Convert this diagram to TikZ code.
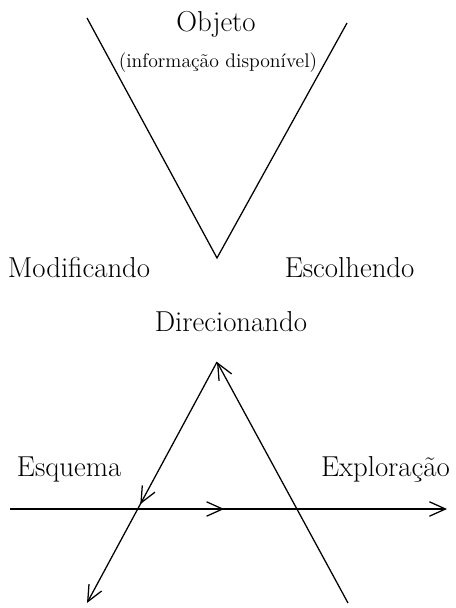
\documentclass[tikz,border=0pt]{standalone}
\usepackage{tikz}
\usetikzlibrary{arrows.meta, decorations.markings}

\begin{document}
\begin{tikzpicture}[big/.style={font=\fontsize{20.5}{24}\selectfont, anchor=base}, small/.style={font=\fontsize{14}{17}\selectfont, anchor=base}, n/.style={line width=0.9pt}, a/.style={-{Straight Barb[length=4mm, width=3.6mm, line width=0.9pt]}, line width=0.9pt}, mid/.style={postaction={decorate}, decoration={markings, mark=at position #1 with {\arrow{Straight Barb[length=4mm, width=3.6mm, line width=0.9pt]}}}}]
                \useasboundingbox (0,0) rectangle (11.4,15.2);
                % nodes
                \node[big]   (obj) at (5.4,14.4) {Objeto};
                \node[small] (info) at (5.45,13.5) {(informação disponível)};
                \node[big]   (mod) at (1.975,8.25) {Modificando};
                \node[big]   (esc) at (8.74,8.25) {Escolhendo};
                \node[big]   (dir) at (5.775,6.9) {Direcionando};
                \node[big, anchor=base west] (esq) at (0.3,3.275) {Esquema};
                \node[big, anchor=base east] (exp) at (11.37,3.275) {Exploração};
                \coordinate (vl) at (2.175,14.75);
                \coordinate (vr) at (8.675,14.625);
                \coordinate (vb) at (5.425,8.75);
                \coordinate (top) at (5.425,6.15);
                \coordinate (bl) at (2.175,0.125);
                \coordinate (br) at (8.7,0.125);
                \coordinate (hl) at (0.25,2.475);
                \coordinate (hr) at (11.175,2.475);
                % edges
                \draw [n] (vl) -- (vb) -- (vr);
                \draw [a] (br) -- (top);
                \draw [a, mid=0.59] (top) -- (bl);
                \draw [a, mid=0.49] (hl) -- (hr);
            \end{tikzpicture}
\end{document}
